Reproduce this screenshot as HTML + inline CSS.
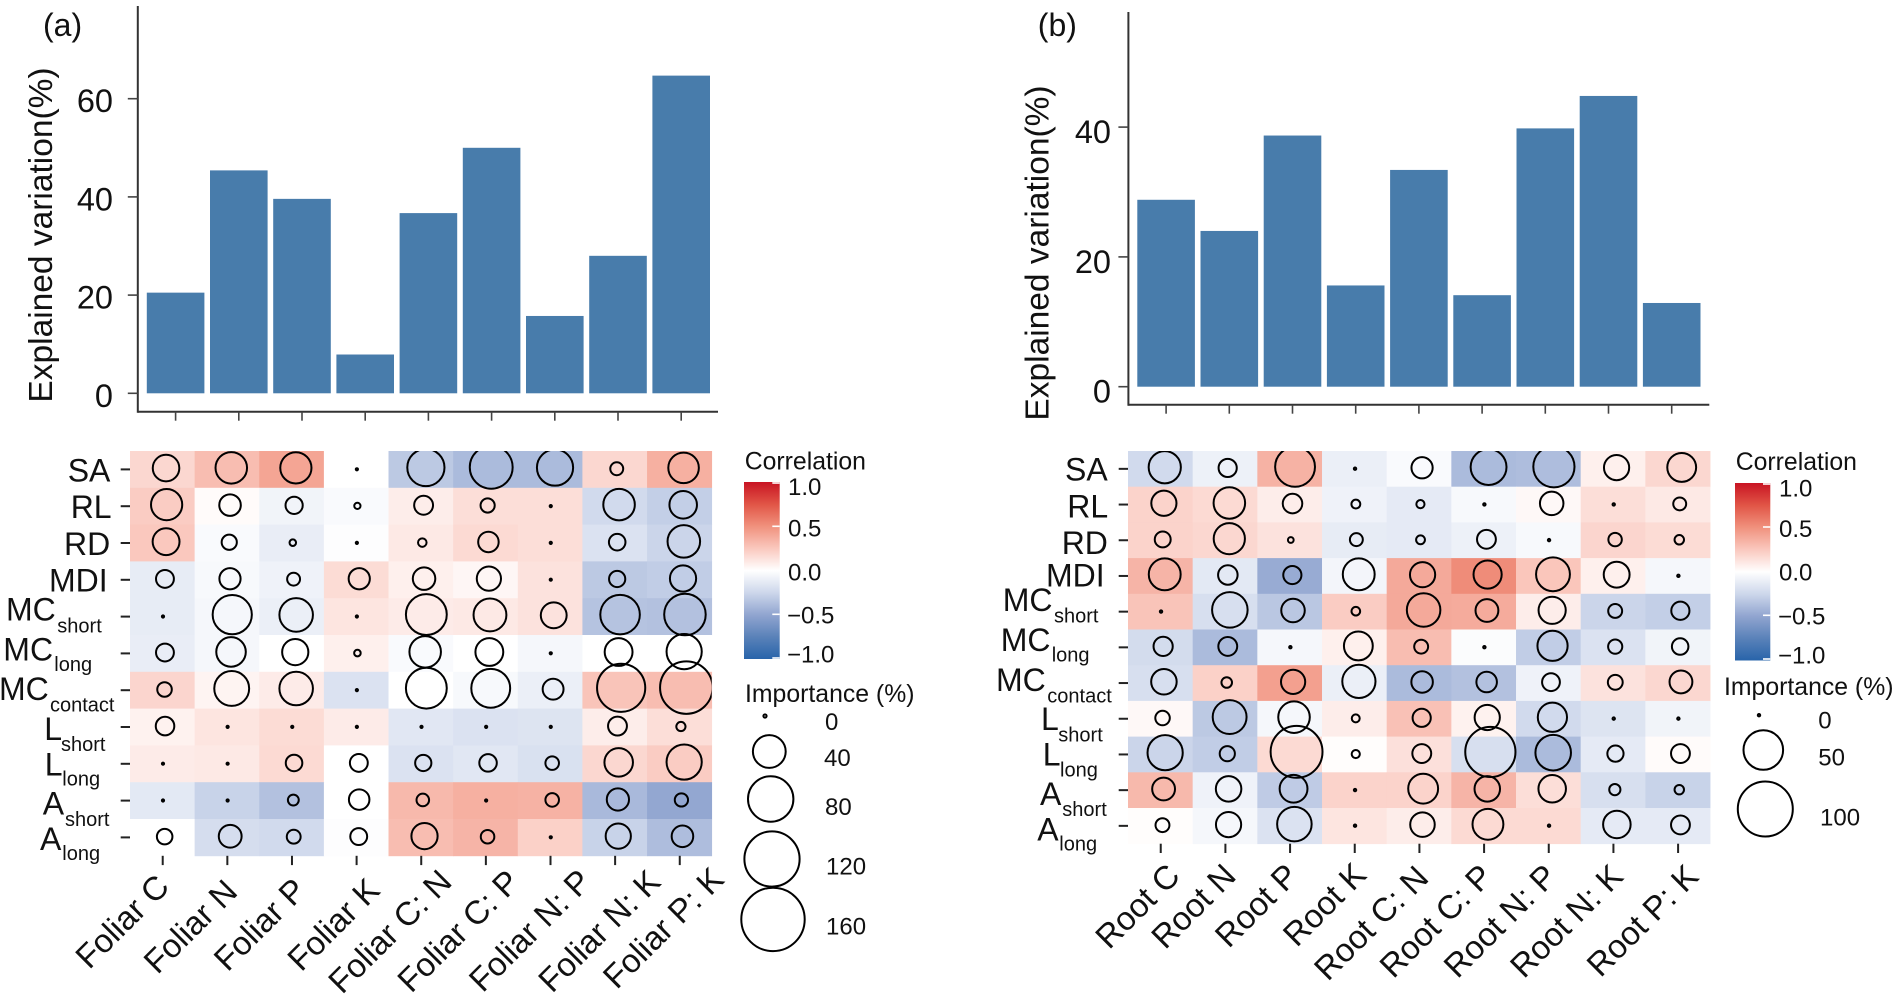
<!DOCTYPE html>
<html lang="en">
<head>
<meta charset="utf-8">
<title>Explained variation and correlation heatmaps</title>
<style>
html,body{margin:0;padding:0;background:#fff;}
svg{display:block;}
text{font-family:"Liberation Sans",Arial,sans-serif;fill:#111;}
.yl{font-size:32px;}
.ys{font-size:20px;}
.xl{font-size:33px;text-anchor:middle;}
.lg{font-size:24px;}
.lt{font-size:24.8px;}
.ttl{font-size:33.5px;text-anchor:middle;}
.tag{font-size:32px;}
</style>
</head>
<body>
<svg id="figure" width="1896" height="1000" viewBox="0 0 1896 1000" xmlns="http://www.w3.org/2000/svg">
  <defs>
    <linearGradient id="corrGradient" x1="0" y1="0" x2="0" y2="1">
      <stop offset="0" stop-color="rgb(200,20,35)"/>
      <stop offset="0.125" stop-color="rgb(225,85,70)"/>
      <stop offset="0.25" stop-color="rgb(240,145,125)"/>
      <stop offset="0.375" stop-color="rgb(250,200,190)"/>
      <stop offset="0.5" stop-color="rgb(255,255,255)"/>
      <stop offset="0.625" stop-color="rgb(205,215,235)"/>
      <stop offset="0.75" stop-color="rgb(145,165,208)"/>
      <stop offset="0.875" stop-color="rgb(90,130,185)"/>
      <stop offset="1" stop-color="rgb(40,100,170)"/>
    </linearGradient>
    <clipPath id="clipHeatA"><rect x="130" y="451" width="581.7" height="405"/></clipPath>
    <clipPath id="clipHeatB"><rect x="1128" y="451" width="582" height="393"/></clipPath>
  </defs>
  <rect x="0" y="0" width="1896" height="1000" fill="#ffffff"/>

  <g id="panelA">
    <text class="tag" x="43" y="36">(a)</text>
    <text class="ttl" x="52" y="235" transform="rotate(-90 52 235)">Explained variation(%)</text>
    <g id="barsA"></g>
    <g id="heatA"></g>
    <g>
      <text class="yl" x="67.7" y="481.7">SA</text>
      <text class="yl" x="70.7" y="518">RL</text>
      <text class="yl" x="64" y="555">RD</text>
      <text class="yl" x="49" y="591.7">MDI</text>
      <text class="yl" x="6" y="620.7">MC</text>
      <text class="ys" x="57.3" y="632.3">short</text>
      <text class="yl" x="3.3" y="660.7">MC</text>
      <text class="ys" x="54.3" y="671">long</text>
      <text class="yl" x="-1" y="700">MC</text>
      <text class="ys" x="50" y="711.7">contact</text>
      <text class="yl" x="44.3" y="740">L</text>
      <text class="ys" x="61" y="751">short</text>
      <text class="yl" x="44.7" y="775.7">L</text>
      <text class="ys" x="62.3" y="785.7">long</text>
      <text class="yl" x="42.7" y="814.3">A</text>
      <text class="ys" x="65" y="826">short</text>
      <text class="yl" x="40" y="850">A</text>
      <text class="ys" x="62.3" y="860">long</text>
    </g>
    <g>
      <text class="xl" x="121.7" y="921" dy=".36em" transform="rotate(-45 121.7 921)">Foliar C</text>
      <text class="xl" x="190" y="926" dy=".36em" transform="rotate(-45 190 926)">Foliar N</text>
      <text class="xl" x="259.4" y="924" dy=".36em" transform="rotate(-45 259.4 924)">Foliar P</text>
      <text class="xl" x="333" y="924" dy=".36em" transform="rotate(-45 333 924)">Foliar K</text>
      <text class="xl" x="389.5" y="931" dy=".36em" transform="rotate(-45 389.5 931)">Foliar C: N</text>
      <text class="xl" x="458" y="930.5" dy=".36em" transform="rotate(-45 458 930.5)">Foliar C: P</text>
      <text class="xl" x="529.5" y="930" dy=".36em" transform="rotate(-45 529.5 930)">Foliar N: P</text>
      <text class="xl" x="598.8" y="930.5" dy=".36em" transform="rotate(-45 598.8 930.5)">Foliar N: K</text>
      <text class="xl" x="662.8" y="927.4" dy=".36em" transform="rotate(-45 662.8 927.4)">Foliar P: K</text>
    </g>
    <g>
      <text class="lt" x="744.7" y="469.3">Correlation</text>
      <rect x="744" y="482" width="35.7" height="177" fill="url(#corrGradient)"/>
      <g stroke="#fff" stroke-width="1.6">
        <line x1="772.3" x2="779.7" y1="483" y2="483"/>
        <line x1="772.3" x2="779.7" y1="526.3" y2="526.3"/>
        <line x1="772.3" x2="779.7" y1="614.3" y2="614.3"/>
        <line x1="772.3" x2="779.7" y1="658" y2="658"/>
      </g>
      <text class="lg" x="788" y="495.2">1.0</text>
      <text class="lg" x="788" y="536.6">0.5</text>
      <text class="lg" x="788" y="580.3">0.0</text>
      <text class="lg" x="787" y="623.6">−0.5</text>
      <text class="lg" x="787" y="662.6">−1.0</text>
    </g>
    <g>
      <text class="lt" x="745" y="702">Importance (%)</text>
      <g fill="none" stroke="#000" stroke-width="2">
        <circle cx="765" cy="716" r="1.6"/>
        <circle cx="769.3" cy="751.5" r="16.4"/>
        <circle cx="770.7" cy="799" r="22.7"/>
        <circle cx="772" cy="859" r="27.6"/>
        <circle cx="773" cy="919.4" r="31.7"/>
      </g>
      <text class="lg" x="825" y="730">0</text>
      <text class="lg" x="824" y="766">40</text>
      <text class="lg" x="825" y="815">80</text>
      <text class="lg" x="826" y="874.4">120</text>
      <text class="lg" x="826" y="934.6">160</text>
    </g>
  </g>

  <g id="panelB">
    <text class="tag" x="1037.8" y="36">(b)</text>
    <text class="ttl" x="1048.6" y="253" transform="rotate(-90 1048.6 253)">Explained variation(%)</text>
    <g id="barsB"></g>
    <g id="heatB"></g>
    <g>
      <text class="yl" x="1065" y="480.7">SA</text>
      <text class="yl" x="1067.3" y="517.3">RL</text>
      <text class="yl" x="1061.7" y="554">RD</text>
      <text class="yl" x="1046" y="586.7">MDI</text>
      <text class="yl" x="1002.7" y="611">MC</text>
      <text class="ys" x="1054" y="622.3">short</text>
      <text class="yl" x="1000.7" y="651">MC</text>
      <text class="ys" x="1051.7" y="661.7">long</text>
      <text class="yl" x="996" y="691">MC</text>
      <text class="ys" x="1047.3" y="702.3">contact</text>
      <text class="yl" x="1041" y="730">L</text>
      <text class="ys" x="1058.3" y="741.7">short</text>
      <text class="yl" x="1042.7" y="765.7">L</text>
      <text class="ys" x="1060" y="776.7">long</text>
      <text class="yl" x="1040" y="805">A</text>
      <text class="ys" x="1062.3" y="816">short</text>
      <text class="yl" x="1037.3" y="840.7">A</text>
      <text class="ys" x="1059.3" y="850.7">long</text>
    </g>
    <g>
      <text class="xl" x="1137" y="905.7" dy=".36em" transform="rotate(-45 1137 905.7)">Root C</text>
      <text class="xl" x="1193" y="905.7" dy=".36em" transform="rotate(-45 1193 905.7)">Root N</text>
      <text class="xl" x="1256" y="905" dy=".36em" transform="rotate(-45 1256 905)">Root P</text>
      <text class="xl" x="1324" y="904" dy=".36em" transform="rotate(-45 1324 904)">Root K</text>
      <text class="xl" x="1370.7" y="922.5" dy=".36em" transform="rotate(-45 1370.7 922.5)">Root C: N</text>
      <text class="xl" x="1435.5" y="920.5" dy=".36em" transform="rotate(-45 1435.5 920.5)">Root C: P</text>
      <text class="xl" x="1499.7" y="920.5" dy=".36em" transform="rotate(-45 1499.7 920.5)">Root N: P</text>
      <text class="xl" x="1566" y="920.5" dy=".36em" transform="rotate(-45 1566 920.5)">Root N: K</text>
      <text class="xl" x="1642" y="920" dy=".36em" transform="rotate(-45 1642 920)">Root P: K</text>
    </g>
    <g>
      <text class="lt" x="1735.7" y="470">Correlation</text>
      <rect x="1735" y="483" width="35.3" height="177.5" fill="url(#corrGradient)"/>
      <g stroke="#fff" stroke-width="1.6">
        <line x1="1763" x2="1770.3" y1="484" y2="484"/>
        <line x1="1763" x2="1770.3" y1="527" y2="527"/>
        <line x1="1763" x2="1770.3" y1="615.3" y2="615.3"/>
        <line x1="1763" x2="1770.3" y1="659" y2="659"/>
      </g>
      <text class="lg" x="1779" y="496.3">1.0</text>
      <text class="lg" x="1779" y="537">0.5</text>
      <text class="lg" x="1779" y="580.3">0.0</text>
      <text class="lg" x="1778" y="624.3">−0.5</text>
      <text class="lg" x="1778" y="663.6">−1.0</text>
    </g>
    <g>
      <text class="lt" x="1724" y="695">Importance (%)</text>
      <g fill="none" stroke="#000" stroke-width="2">
        <circle cx="1759" cy="715.2" r="1.2"/>
        <circle cx="1763.3" cy="750" r="19.8"/>
        <circle cx="1765.3" cy="809" r="27.5"/>
      </g>
      <text class="lg" x="1818.3" y="728.3">0</text>
      <text class="lg" x="1818.3" y="765.3">50</text>
      <text class="lg" x="1820" y="825.6">100</text>
    </g>
  </g>
</svg>
<script>
const foliarCategories = ['Foliar C','Foliar N','Foliar P','Foliar K','Foliar C: N','Foliar C: P','Foliar N: P','Foliar N: K','Foliar P: K'];
const rootCategories = ['Root C','Root N','Root P','Root K','Root C: N','Root C: P','Root N: P','Root N: K','Root P: K'];
const traitNames = ['SA','RL','RD','MDI','MCshort','MClong','MCcontact','Lshort','Llong','Ashort','Along'];

const foliarExplained = [20.5,45.4,39.6,7.9,36.7,50.0,15.75,28.0,64.7];
const rootExplained = [28.8,24.0,38.7,15.6,33.4,14.1,39.8,44.8,12.9];
const foliarYTicks = [0,20,40,60];
const rootYTicks = [0,20,40];

const foliarCorrelation = [
  [.18,.30,.41,0,-.32,-.39,-.39,.18,.36],
  [.23,.02,-.07,-.03,.08,.15,.15,-.23,-.29],
  [.25,-.03,-.11,-.01,.10,.17,.15,-.18,-.26],
  [-.12,-.04,-.08,.16,.07,.04,.13,-.32,-.30],
  [-.12,-.05,-.10,.12,.09,.10,.13,-.35,-.36],
  [-.11,-.05,0,.07,-.03,0,-.05,0,0],
  [.19,.05,.09,-.18,0,-.04,-.10,.27,.30],
  [.06,.12,.16,.09,-.15,-.18,-.17,.08,.15],
  [.09,.10,.17,0,-.18,-.15,-.19,.18,.23],
  [-.14,-.27,-.36,0,.32,.36,.35,-.40,-.49],
  [0,-.21,-.23,-.01,.30,.34,.21,-.27,-.38]
];
const foliarImportance = [
  [25.3,36.7,35.9,0,52.3,70.6,49.3,4.9,34.3],
  [35.9,16,9.6,.7,11.9,6.1,0,36.7,27.4],
  [26,7.2,.8,0,1.7,14.3,0,8.8,39.3],
  [10.5,15.4,4.9,15.4,17.6,20.7,0,8.4,24.6],
  [0,58.4,41.9,0,63.8,40.1,23.9,59.5,66],
  [10.5,31.9,24.6,.8,36.7,28.1,0,28.1,46.5],
  [6.5,45.6,41.9,0,63.8,57.4,14.9,90.3,108],
  [11.4,0,0,0,0,0,0,11.9,2.1],
  [0,0,8.8,10.5,8.4,10,5.5,29.6,46.5],
  [0,0,3.2,14.3,4.6,0,5.5,17.1,5.2],
  [7.6,18.2,5.8,9.2,24.6,5.5,0,22.6,16]
];
const rootCorrelation = [
  [-.23,-.09,.35,-.10,-.03,-.39,-.38,.07,.18],
  [.20,.17,.08,-.08,-.13,-.04,.03,.15,.10],
  [.20,.18,.13,-.12,-.13,-.09,-.04,.19,.16],
  [.34,-.14,-.47,-.06,.39,.52,.26,.07,-.05],
  [.27,-.20,-.33,.23,.39,.38,.08,-.26,-.29],
  [-.22,-.39,-.05,.07,.30,-.02,-.30,-.18,-.07],
  [-.20,.21,.43,-.10,-.39,-.36,-.08,.13,.18],
  [.03,-.32,-.05,.08,.28,.06,-.23,-.17,-.07],
  [-.26,-.30,.17,.01,.14,-.20,-.39,-.13,.02],
  [.32,-.08,-.31,.20,.20,.34,.15,-.20,-.27],
  [.01,-.05,-.18,.12,.08,.17,.17,-.13,-.13]
];
const rootImportance = [
  [32.1,9,50.7,0,12.8,40.5,54.4,18.8,25.3],
  [18.8,30.7,10.6,1.5,1.2,0,16.1,0,4],
  [6.6,30,.4,4,1.5,9.8,0,4.4,1.8],
  [31.4,10.6,9,31.4,18.8,24,35.8,19.9,0],
  [0,39.7,16.1,1.4,35,15.1,22.2,4.8,9],
  [10.2,9.8,0,25.3,4.8,0,27.9,5,7.2],
  [19.3,2.4,17.2,34.3,13.2,11.9,8.6,5.6,15.1],
  [5.3,35.8,30.7,1.1,9,18.8,26,0,0],
  [38.9,5.9,88.5,1.2,9.8,82.6,39.7,6.9,9.8],
  [15.1,19.3,23.4,0,27.3,19.3,22.8,2.8,1.8],
  [4.8,18.8,37.3,0,17.7,29.3,0,22.8,9.8]
];

const SVG_NS = document.getElementById('figure').namespaceURI;

function makeSvg(parent, tag) {
  const el = document.createElementNS(SVG_NS, tag);
  parent.appendChild(el);
  return el;
}
function setAll(el, props) {
  Object.keys(props).forEach(function (k) { el.setAttribute(k, props[k]); });
}
function slug(s) {
  return String(s).toLowerCase().replace(/[^a-z0-9]+/g, '-');
}
function mix(a, b, t) {
  return Math.round(a + (b - a) * t);
}
function correlationColor(v) {
  const pos = [[255,255,255],[250,200,190],[240,145,125],[225,85,70],[200,20,35]];
  const neg = [[255,255,255],[205,215,235],[145,165,208],[90,130,185],[40,100,170]];
  const ramp = v >= 0 ? pos : neg;
  const p = Math.min(Math.abs(v), 1) * 4;
  const i = Math.min(Math.floor(p), 3);
  const t = p - i;
  return 'rgb(' + mix(ramp[i][0], ramp[i + 1][0], t) + ',' + mix(ramp[i][1], ramp[i + 1][1], t) + ',' + mix(ramp[i][2], ramp[i + 1][2], t) + ')';
}

function drawBarChart(root, categories, values, yTicks, g) {
  const xScale = function (i) { return g.firstX + g.step * i; };
  const yScale = function (v) { return g.zeroY - g.pxPerUnit * v; };

  values.forEach(function (v, i) {
    const bar = makeSvg(root, 'rect');
    
    
    setAll(bar, { x: xScale(i) - g.barWidth / 2, y: yScale(v), width: g.barWidth, height: g.zeroY - yScale(v), fill: '#487cab' });
  });

  const yAxis = makeSvg(root, 'line');
  
  
  setAll(yAxis, { x1: g.axisX, x2: g.axisX, y1: g.axisTop, y2: g.axisBottom + 1, stroke: '#333', 'stroke-width': 2 });

  const xAxis = makeSvg(root, 'line');
  
  
  setAll(xAxis, { x1: g.axisX, x2: g.axisRight, y1: g.axisBottom, y2: g.axisBottom, stroke: '#333', 'stroke-width': 2 });

  categories.forEach(function (c, i) {
    const tick = makeSvg(root, 'line');
    
    
    setAll(tick, { x1: xScale(i), x2: xScale(i), y1: g.axisBottom, y2: g.axisBottom + 9, stroke: '#444', 'stroke-width': 1.6 });
  });

  yTicks.forEach(function (t) {
    const tick = makeSvg(root, 'line');
    
    
    setAll(tick, { x1: g.axisX - 10, x2: g.axisX, y1: yScale(t), y2: yScale(t), stroke: '#444', 'stroke-width': 1.6 });

    const label = makeSvg(root, 'text');
    
    
    setAll(label, { x: g.labelRight, y: yScale(t) + g.labelShift, 'text-anchor': 'end', 'font-size': 32.5 });
    label.textContent = t;
  });
}

function drawHeatmap(root, categories, rows, correlation, importance, g) {
  const xBand = function (i) { return g.x0 + g.cellW * i; };
  const yBand = function (j) { return g.y0 + g.cellH * j; };
  const radius = function (v) { return g.rMin + g.rSlope * Math.sqrt(v); };

  correlation.forEach(function (row, j) {
    row.forEach(function (v, i) {
      const cell = makeSvg(root, 'rect');
      
      
      setAll(cell, { x: xBand(i), y: yBand(j), width: g.cellW + 0.4, height: g.cellH + 0.4, fill: correlationColor(v) });
    });
  });

  rows.forEach(function (name, j) {
    const tick = makeSvg(root, 'line');
    
    
    setAll(tick, { x1: g.x0 - 9.3, x2: g.x0, y1: yBand(j) + g.cellH / 2, y2: yBand(j) + g.cellH / 2, stroke: '#222', 'stroke-width': 2 });
  });

  categories.forEach(function (c, i) {
    const tick = makeSvg(root, 'line');
    
    
    const tx = xBand(i) + g.cellW / 2 + 0.4;
    setAll(tick, { x1: tx, x2: tx, y1: yBand(rows.length), y2: yBand(rows.length) + 9.3, stroke: '#222', 'stroke-width': 2 });
  });

  const circles = makeSvg(root, 'g');
  
  
  circles.setAttribute('clip-path', 'url(#' + g.clip + ')');

  importance.forEach(function (row, j) {
    row.forEach(function (v, i) {
      const r = radius(v);
      const dot = makeSvg(circles, 'circle');
      
      
      setAll(dot, {
        cx: xBand(i) + g.cellW / 2 + 0.4 + r * 0.25,
        cy: yBand(j) + g.cellH / 2 - r * 0.1,
        r: r, fill: 'none', stroke: '#000', 'stroke-width': 2
      });
    });
  });
}

drawBarChart(document.getElementById('barsA'), foliarCategories, foliarExplained, foliarYTicks, {
  firstX: 175.6, step: 63.2, barWidth: 57.6, zeroY: 393.3, pxPerUnit: 4.91,
  axisX: 137.8, axisTop: 6, axisBottom: 411.7, axisRight: 718, labelRight: 113, labelShift: 13.5
});
drawBarChart(document.getElementById('barsB'), rootCategories, rootExplained, rootYTicks, {
  firstX: 1166.1, step: 63.2, barWidth: 57.6, zeroY: 386.7, pxPerUnit: 6.49,
  axisX: 1128.4, axisTop: 12, axisBottom: 404.7, axisRight: 1709.3, labelRight: 1111, labelShift: 16
});
drawHeatmap(document.getElementById('heatA'), foliarCategories, traitNames, foliarCorrelation, foliarImportance, {
  x0: 130, y0: 451, cellW: 64.63, cellH: 36.8, rMin: 1.1, rSlope: 2.42, clip: 'clipHeatA'
});
drawHeatmap(document.getElementById('heatB'), rootCategories, traitNames, rootCorrelation, rootImportance, {
  x0: 1128, y0: 451, cellW: 64.67, cellH: 35.7, rMin: 1.2, rSlope: 2.63, clip: 'clipHeatB'
});
</script>
</body>
</html>
